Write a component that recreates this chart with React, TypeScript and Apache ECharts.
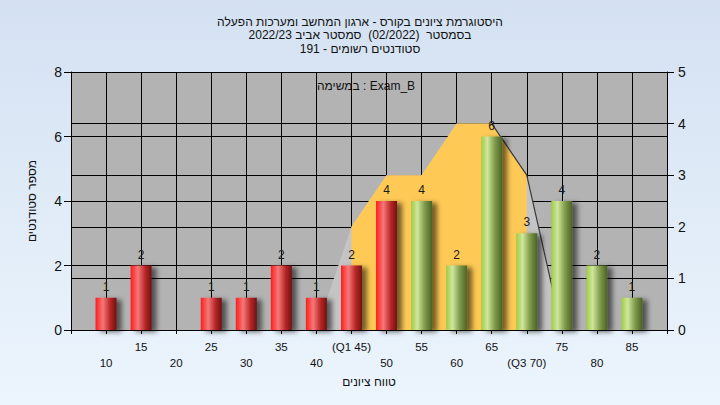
import React, { useEffect, useRef } from "react";
import * as echarts from "echarts";

// ---- data ----
const scores = [10, 15, 20, 25, 30, 35, 40, 45, 50, 55, 60, 65, 70, 75, 80, 85];
const counts = [1, 2, 0, 1, 1, 2, 1, 2, 4, 4, 2, 6, 3, 4, 2, 1];
const passScore = 55;
const q1 = 45;
const q3 = 70;
const curveX = [40, 45, 50, 55, 60, 65, 70, 75];
const curveY = [0, 2, 3, 3, 4, 4, 3, 0];
const titleLines = [
  "היסטוגרמת ציונים בקורס - ארגון המחשב ומערכות הפעלה",
  "בסמסטר  (02/2022)  סמסטר אביב 2022/23",
  "סטודנטים רשומים - 191",
];
const taskLabel = "במשימה : Exam_B";
const xName = "טווח ציונים";
const yName = "מספר סטודנטים";

const redGrad = () =>
  new echarts.graphic.LinearGradient(0, 0, 1, 0, [
    { offset: 0, color: "#ff1c1c" },
    { offset: 0.35, color: "#f57878" },
    { offset: 0.7, color: "#b82626" },
    { offset: 1, color: "#6e1212" },
  ]);
const greenGrad = () =>
  new echarts.graphic.LinearGradient(0, 0, 1, 0, [
    { offset: 0, color: "#9fcc45" },
    { offset: 0.3, color: "#cfe69c" },
    { offset: 0.65, color: "#7f9b4a" },
    { offset: 1, color: "#4a6224" },
  ]);

export default function App() {
  const ref = useRef<HTMLDivElement>(null);
  useEffect(() => {
    if (!ref.current) return;
    const chart = echarts.init(ref.current, null, { renderer: "svg" });
    const font = "Liberation Sans, Arial, DejaVu Sans, sans-serif";
    const curve = curveX.map((x, i) => [x, curveY[i]]);
    const yellow = curve.filter((p) => p[0] >= q1 && p[0] <= q3);
    const peakEnd = 65;
    const edge = curve.filter((p) => p[0] >= peakEnd);
    const barData = scores
      .map((s, i) => ({ s, c: counts[i] }))
      .filter((d) => d.c > 0)
      .map((d) => ({
        value: [d.s, d.c],
        itemStyle: { color: d.s >= passScore ? greenGrad() : redGrad() },
      }));
    chart.setOption({
      animation: false,
      textStyle: { fontFamily: font },
      title: {
        text: titleLines.join("\n"),
        left: "center",
        top: 10,
        textStyle: {
          fontSize: 12,
          fontWeight: "normal",
          color: "#111",
          lineHeight: 13.5,
          fontFamily: font,
        },
      },
      grid: {
        left: 71,
        right: 53,
        top: 72,
        bottom: 75,
        show: true,
        backgroundColor: "#b3b3b3",
        borderWidth: 0,
      },
      xAxis: {
        type: "value",
        min: 5,
        max: 90,
        interval: 5,
        name: xName,
        nameLocation: "middle",
        nameGap: 45,
        nameTextStyle: { fontSize: 12, color: "#111", fontFamily: font },
        axisLine: { show: true, lineStyle: { color: "#000", width: 1 } },
        axisTick: { show: true, length: 4, lineStyle: { color: "#000" } },
        splitLine: { show: true, lineStyle: { color: "#000", width: 1 } },
        axisLabel: {
          margin: 9,
          fontSize: 11.5,
          lineHeight: 16,
          color: "#111",
          fontFamily: font,
          formatter: (v: number) => {
            if (v <= 5 || v >= 90) return "";
            let t = String(v);
            if (v === q1) t = "(Q1 " + v + ")";
            if (v === q3) t = "(Q3 " + v + ")";
            return v % 10 === 0 ? "\n" + t : t;
          },
        },
      },
      yAxis: [
        {
          type: "value",
          position: "left",
          min: 0,
          max: 8,
          interval: 2,
          name: yName,
          nameLocation: "middle",
          nameGap: 33,
          nameTextStyle: { fontSize: 12, color: "#111", fontFamily: font },
          axisLine: { show: true, lineStyle: { color: "#000" } },
          axisTick: { show: true, length: 7, lineStyle: { color: "#000" } },
          splitLine: { show: true, lineStyle: { color: "#000" } },
          axisLabel: { fontSize: 14, color: "#111", margin: 9, fontFamily: font },
        },
        {
          type: "value",
          position: "right",
          min: 0,
          max: 5,
          interval: 1,
          axisLine: { show: true, lineStyle: { color: "#000" } },
          axisTick: { show: true, length: 7, lineStyle: { color: "#000" } },
          splitLine: { show: true, lineStyle: { color: "#000" } },
          axisLabel: { fontSize: 14, color: "#111", margin: 11, fontFamily: font },
        },
      ],
      series: [
        {
          type: "line",
          yAxisIndex: 1,
          data: curve,
          symbol: "none",
          lineStyle: { width: 0 },
          areaStyle: { color: "#c4c4c4", opacity: 1 },
          z: 1,
        },
        {
          type: "line",
          yAxisIndex: 1,
          data: yellow,
          symbol: "none",
          lineStyle: { width: 0 },
          areaStyle: { color: "#ffc955", opacity: 1 },
          z: 1,
        },
        {
          type: "line",
          yAxisIndex: 1,
          data: edge,
          symbol: "none",
          lineStyle: { width: 1.2, color: "#3a3a3a" },
          z: 1.5,
        },
        {
          type: "bar",
          data: barData,
          barWidth: 21,
          z: 2,
          itemStyle: {
            shadowBlur: 5,
            shadowOffsetX: 5,
            shadowOffsetY: 2,
            shadowColor: "rgba(0,0,0,0.55)",
          },
          label: {
            show: true,
            position: "top",
            distance: 5,
            fontSize: 12,
            color: "#1a1a1a",
            fontFamily: font,
            formatter: (p: any) => String(p.value[1]),
          },
        },
      ],
      graphic: [
        {
          type: "text",
          x: 366,
          y: 86,
          style: {
            text: taskLabel,
            fontSize: 12,
            fill: "#111",
            fontFamily: font,
            align: "center",
            verticalAlign: "middle",
          },
        },
      ],
    });
    return () => chart.dispose();
  }, []);
  return (
    <div
      style={{
        position: "fixed",
        left: 0,
        top: 0,
        width: 720,
        height: 405,
        background: "linear-gradient(180deg, #d4e1f2 0%, #ecf5fd 100%)",
      }}
    >
      <div ref={ref} style={{ width: 720, height: 405 }} />
    </div>
  );
}
